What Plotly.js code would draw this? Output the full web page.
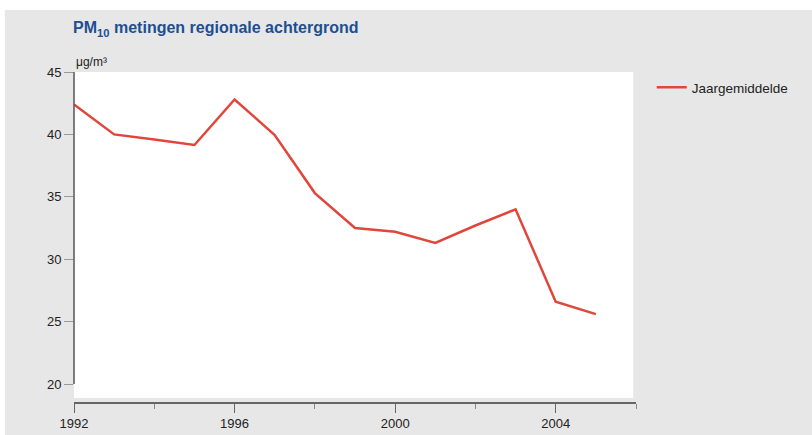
<!DOCTYPE html>
<html>
<head>
<meta charset="utf-8">
<script src="https://cdn.plot.ly/plotly-3.0.1.min.js"></script>
<style>html,body{margin:0;padding:0;background:#fff;}#chart{width:812px;height:435px;}</style>
</head>
<body>
<div id="chart"></div>
<script>
const years = [1992, 1993, 1994, 1995, 1996, 1997, 1998, 1999, 2000, 2001, 2002, 2003, 2004, 2005];
const jaargemiddelde = [42.4, 40.0, 39.6, 39.15, 42.8, 39.95, 35.3, 32.5, 32.2, 31.3, 32.7, 34.0, 26.6, 25.6];
const seriesName = 'Jaargemiddelde';
const titleText = 'PM<sub>10</sub> metingen regionale achtergrond';
const unitText = 'μg/m³';
const yTicks = [20, 25, 30, 35, 40, 45];
const xTicks = [1992, 1996, 2000, 2004];
const xMinorTicks = [1994, 1998, 2002, 2006];

const font = '"Liberation Sans", Arial, sans-serif';

const trace = {
  x: years, y: jaargemiddelde, name: seriesName, type: 'scatter', mode: 'lines',
  line: {color: '#e0473a', width: 2.5}
};

const layout = {
  width: 812, height: 435,
  margin: {l: 74, r: 176, t: 72, b: 33, pad: 0},
  paper_bgcolor: '#ffffff',
  plot_bgcolor: 'rgba(0,0,0,0)',
  font: {family: font, size: 13, color: '#222'},
  title: {
    text: titleText,
    font: {family: font, size: 16, color: '#1d4f91', weight: 'bold'},
    xref: 'container', x: 0.09, xanchor: 'left',
    yref: 'container', y: 0.936, yanchor: 'middle'
  },
  xaxis: {
    range: [1992, 2006], tickmode: 'array', tickvals: xTicks,
    showgrid: false, zeroline: false,
    showline: true, linecolor: '#666', linewidth: 1.5,
    ticks: 'outside', ticklen: 9, tickcolor: '#666', tickwidth: 1,
    minor: {tickmode: 'array', tickvals: xMinorTicks, ticks: 'outside', ticklen: 5, tickcolor: '#888', showgrid: false},
    tickfont: {family: font, size: 13, color: '#222'}
  },
  yaxis: {
    range: [18.56, 45], tickmode: 'array', tickvals: yTicks,
    showgrid: false, zeroline: false, showline: false,
    ticks: 'outside', ticklen: 9, tickcolor: '#999', tickwidth: 1,
    tickfont: {family: font, size: 13, color: '#222'}
  },
  showlegend: true,
  legend: {
    x: 1.028, xanchor: 'left', y: 1.0, yanchor: 'top',
    bgcolor: 'rgba(0,0,0,0)', borderwidth: 0,
    font: {family: font, size: 13.5, color: '#222'}
  },
  annotations: [{
    text: unitText, xref: 'paper', yref: 'paper', x: 0, y: 1.0, yshift: 1,
    xanchor: 'left', yanchor: 'bottom', showarrow: false,
    font: {family: font, size: 12, color: '#222'}
  }],
  shapes: [
    {type: 'rect', layer: 'below', xref: 'paper', yref: 'paper',
     x0: -0.123, x1: 1.32, y0: -0.2, y1: 1.188, fillcolor: '#e7e7e8', line: {width: 0}},
    {type: 'rect', layer: 'below', xref: 'paper', yref: 'y',
     x0: 0, x1: 0.995, y0: 18.88, y1: 45, fillcolor: '#ffffff', line: {width: 0}},
    {type: 'line', xref: 'paper', yref: 'y', x0: 0, x1: 0, y0: 20, y1: 45,
     line: {color: '#555', width: 1.5}}
  ]
};

Plotly.newPlot('chart', [trace], layout, {staticPlot: true, displayModeBar: false});
</script>
</body>
</html>
